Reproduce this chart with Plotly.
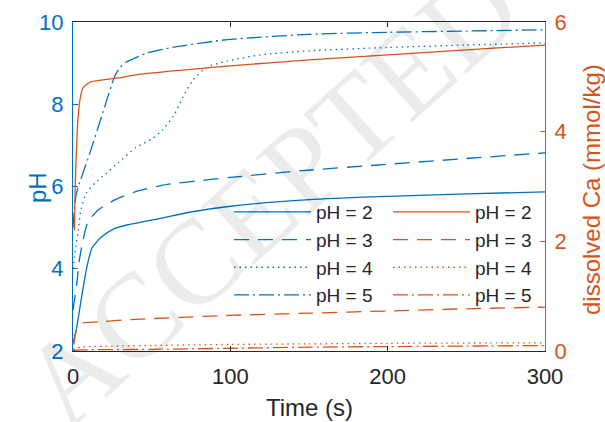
import plotly.graph_objects as go

# ---- data ----
t_ph2 = [0, 2, 5, 8.6, 12, 18, 26, 35, 55, 75, 100, 150, 200, 250, 300]
ph_ph2 = [2.2, 2.5, 3.2, 4.0, 4.5, 4.77, 4.97, 5.07, 5.22, 5.38, 5.52, 5.68, 5.76, 5.82, 5.87]

t_ph3 = [0, 2.3, 4, 6.4, 9.5, 16, 24, 28, 42, 60, 85, 100, 144, 200, 250, 300]
ph_ph3 = [3.0, 3.6, 4.2, 4.7, 5.14, 5.43, 5.62, 5.7, 5.9, 6.05, 6.16, 6.22, 6.38, 6.54, 6.68, 6.82]

t_ph4 = [0, 1.5, 3.2, 5, 8.5, 14, 20.6, 28.6, 40, 50, 57, 64, 70, 76.5, 85, 98, 119, 150, 200, 250, 300]
ph_ph4 = [4.0, 4.46, 4.87, 5.43, 5.84, 6.09, 6.3, 6.57, 6.95, 7.15, 7.38, 7.72, 8.18, 8.6, 8.9, 9.05, 9.2, 9.3, 9.38, 9.44, 9.49]

t_ph5 = [0, 1, 2, 3.4, 10.6, 19, 26.7, 30, 34, 41, 47, 66, 98, 150, 200, 250, 300]
ph_ph5 = [5.0, 5.5, 5.8, 6.0, 6.8, 7.8, 8.7, 8.9, 9.03, 9.15, 9.25, 9.4, 9.57, 9.7, 9.75, 9.78, 9.81]

t_ca2 = [0.9, 1.4, 2.1, 3.2, 4.5, 6.4, 11.5, 28.6, 41, 100, 150, 200, 250, 300]
ca_ph2 = [2.2, 3.0, 3.6, 4.25, 4.6, 4.8, 4.91, 4.98, 5.04, 5.2, 5.31, 5.4, 5.49, 5.58]

t_ca3 = [0.5, 1, 2, 3.2, 6.4, 16, 35, 100, 150, 200, 250, 300]
ca_ph3 = [0.12, 0.22, 0.36, 0.44, 0.51, 0.53, 0.57, 0.65, 0.69, 0.73, 0.77, 0.8]

t_ca4 = [0, 5, 50, 100, 150, 200, 300]
ca_ph4 = [0.03, 0.07, 0.1, 0.12, 0.13, 0.14, 0.15]

t_ca5 = [0, 5, 50, 100, 150, 200, 300]
ca_ph5 = [0.01, 0.02, 0.03, 0.05, 0.07, 0.08, 0.1]

labels = ["pH = 2", "pH = 3", "pH = 4", "pH = 5"]

BLUE = "#0072BD"
ORANGE = "#D95319"
DARK = "#262626"
dashes = ["solid", "15px,9px", "1.5px,4px", "15px,4px,2px,4px"]

fig = go.Figure()

ph_series = [(t_ph2, ph_ph2), (t_ph3, ph_ph3), (t_ph4, ph_ph4), (t_ph5, ph_ph5)]
ca_series = [(t_ca2, ca_ph2), (t_ca3, ca_ph3), (t_ca4, ca_ph4), (t_ca5, ca_ph5)]

for i, (tx, ty) in enumerate(ph_series):
    fig.add_trace(go.Scatter(x=tx, y=ty, mode="lines", name=labels[i],
                             line=dict(color=BLUE, width=1.3, dash=dashes[i], shape="spline", smoothing=0.6),
                             legend="legend", yaxis="y"))
for i, (tx, ty) in enumerate(ca_series):
    fig.add_trace(go.Scatter(x=tx, y=ty, mode="lines", name=labels[i],
                             line=dict(color=ORANGE, width=1.3, dash=dashes[i], shape="spline", smoothing=0.6),
                             legend="legend2", yaxis="y2"))

# the page's body margin is removed (post_script), so the figure fills the window
W, H = 605, 422
L = 73
T = 22
R = W - 545
B = H - 351
pw = W - L - R
ph = H - T - B

def px(xp):  # page pixel -> paper coordinate
    return (xp - L) / pw

def py(yp):
    return (H - B - yp) / ph

font = "Liberation Sans, Arial, sans-serif"

fig.update_layout(
    width=W, height=H,
    margin=dict(l=L, r=R, t=T, b=B),
    paper_bgcolor="white", plot_bgcolor="white",
    font=dict(family=font, size=22, color=DARK),
    showlegend=True,
    xaxis=dict(range=[0, 300], tickvals=[0, 100, 200, 300], ticks="inside", ticklen=5,
               tickcolor=DARK, showline=True, linecolor=DARK, linewidth=1,
               mirror="ticks", showgrid=False, zeroline=False, automargin=False,
               ticklabelstandoff=6,
               tickfont=dict(size=22, color=DARK)),
    yaxis=dict(range=[2, 10], tickvals=[2, 4, 6, 8, 10], ticks="inside", ticklen=5,
               tickcolor=BLUE, showline=True, linecolor=BLUE, linewidth=1,
               showgrid=False, zeroline=False, automargin=False, ticklabelstandoff=4,
               tickfont=dict(size=22, color=BLUE)),
    yaxis2=dict(range=[0, 6], tickvals=[0, 2, 4, 6], ticks="inside", ticklen=5,
                tickcolor=ORANGE, showline=True, linecolor=ORANGE, linewidth=1,
                overlaying="y", side="right", showgrid=False, zeroline=False, automargin=False,
                ticklabelstandoff=4,
                tickfont=dict(size=22, color=ORANGE)),
    legend=dict(x=px(229), y=py(193), xanchor="left", yanchor="top", bgcolor="rgba(0,0,0,0)",
                itemwidth=77, font=dict(size=19, color=DARK, family=font)),
    legend2=dict(x=px(388), y=py(193), xanchor="left", yanchor="top", bgcolor="rgba(0,0,0,0)",
                 itemwidth=77, font=dict(size=19, color=DARK, family=font)),
)

# axis titles
fig.add_annotation(text="Time (s)", xref="paper", yref="paper", x=px(309), y=py(408),
                   showarrow=False, xanchor="center", yanchor="middle",
                   font=dict(size=24, color=DARK, family=font))
fig.add_annotation(text="pH", xref="paper", yref="paper", x=px(37), y=py(188),
                   showarrow=False, textangle=-90, xanchor="center", yanchor="middle",
                   font=dict(size=24, color=BLUE, family=font))
fig.add_annotation(text="dissolved Ca (mmol/kg)", xref="paper", yref="paper", x=px(591), y=py(190),
                   showarrow=False, textangle=-90, xanchor="center", yanchor="middle",
                   font=dict(size=24, color=ORANGE, family=font))

# faint watermark of the source image
fig.add_annotation(text="ACCEPTED", xref="paper", yref="paper", x=px(270), y=py(195),
                   showarrow=False, textangle=-42,
                   font=dict(family="Liberation Serif, serif", size=120, color="rgba(0,0,0,0.08)"))

fig.write_html("out.html", config={"displayModeBar": False},
               post_script="document.body.style.margin='0';document.body.style.overflow='hidden';")
